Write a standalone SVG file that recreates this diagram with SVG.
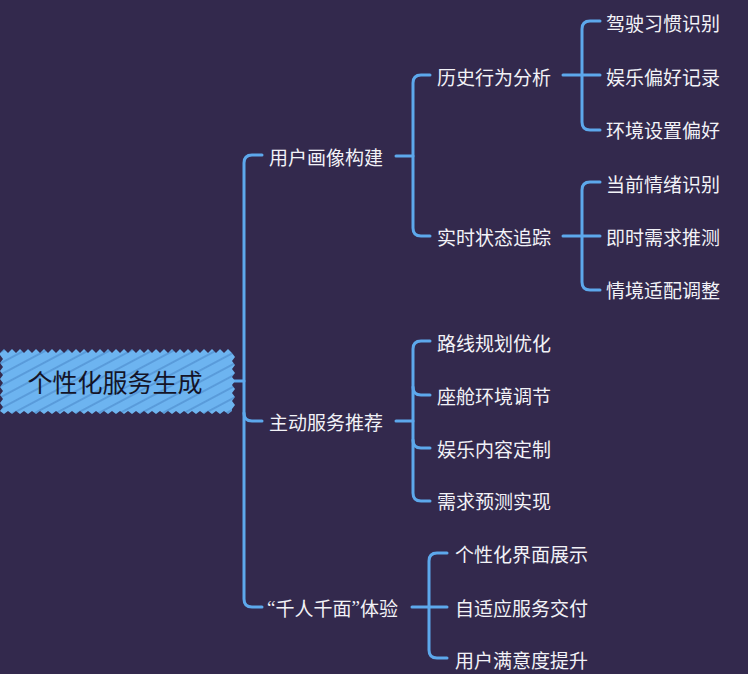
<svg xmlns="http://www.w3.org/2000/svg" width="748" height="674" viewBox="0 0 748 674">
<defs>
<pattern id="hatch" width="10" height="10" patternUnits="userSpaceOnUse" patternTransform="rotate(-28)">
<rect width="10" height="10" fill="#6db4f0"/>
<line x1="0" y1="1" x2="10" y2="1" stroke="#4583c4" stroke-width="1"/>
</pattern>
</defs>
<style>
.bg{fill:#33294d}
.c{fill:none;stroke:#5da8ec;stroke-width:3;stroke-linecap:round;stroke-linejoin:round}
.t{font-family:"Noto Sans CJK SC","Noto Sans",sans-serif;font-size:19px;fill:#f2f2f7;dominant-baseline:central}
.q{font-family:"Liberation Serif",serif}
.r{font-family:"Noto Sans CJK SC","Noto Sans",sans-serif;font-size:25px;fill:#141428;dominant-baseline:central;text-anchor:middle}
</style>
<rect class="bg" width="748" height="674"/>
<g id="connectors">
<path class="c" d="M232 381 H244"/>
<path class="c" d="M262 155 H252 Q244 155 244 163 V599 Q244 607 252 607 H262"/>
<path class="c" d="M244 413 Q244 421 252 421 H262"/>
<path class="c" d="M396 156 H413"/>
<path class="c" d="M430 75 H421 Q413 75 413 83 V228 Q413 236 421 236 H430"/>
<path class="c" d="M563 75 H600"/>
<path class="c" d="M600 21 H590 Q582 21 582 29 V122 Q582 130 590 130 H600"/>
<path class="c" d="M563 236 H600"/>
<path class="c" d="M600 182 H590 Q582 182 582 190 V282 Q582 290 590 290 H600"/>
<path class="c" d="M396 421 H413"/>
<path class="c" d="M430 341 H421 Q413 341 413 349 V493 Q413 501 421 501 H430"/>
<path class="c" d="M413 387 Q413 395 421 395 H430"/>
<path class="c" d="M413 440 Q413 448 421 448 H430"/>
<path class="c" d="M412 607 H447"/>
<path class="c" d="M447 553 H437 Q429 553 429 561 V650 Q429 658 437 658 H447"/>
</g>
<g id="root">
<path fill="url(#hatch)" d="M0 353 l4 -4 l4 4 l4 -4 l4 4 l4 -4 l4 4 l4 -4 l4 4 l4 -4 l4 4 l4 -4 l4 4 l4 -4 l4 4 l4 -4 l4 4 l4 -4 l4 4 l4 -4 l4 4 l4 -4 l4 4 l4 -4 l4 4 l4 -4 l4 4 l4 -4 l4 4 l4 -4 l4 4 l4 -4 l4 4 l4 -4 l4 4 l4 -4 l4 4 l4 -4 l4 4 l4 -4 l4 4 l4 -4 l4 4 l4 -4 l4 4 l4 -4 l4 4 l4 -4 l4 4 l4 -4 l4 4 l4 -4 l4 4 l4 -4 l4 4 l4 -4 l4 4 l4 -4 l4 4 l3 4 l-3 4 l3 4 l-3 4 l3 4 l-3 4 l3 4 l-3 4 l3 4 l-3 4 l3 4 l-3 4 l3 4 l-3 4 l0 2 l-4 3 l-4 -3 l-4 3 l-4 -3 l-4 3 l-4 -3 l-4 3 l-4 -3 l-4 3 l-4 -3 l-4 3 l-4 -3 l-4 3 l-4 -3 l-4 3 l-4 -3 l-4 3 l-4 -3 l-4 3 l-4 -3 l-4 3 l-4 -3 l-4 3 l-4 -3 l-4 3 l-4 -3 l-4 3 l-4 -3 l-4 3 l-4 -3 l-4 3 l-4 -3 l-4 3 l-4 -3 l-4 3 l-4 -3 l-4 3 l-4 -3 l-4 3 l-4 -3 l-4 3 l-4 -3 l-4 3 l-4 -3 l-4 3 l-4 -3 l-4 3 l-4 -3 l-4 3 l-4 -3 l-4 3 l-4 -3 l-4 3 l-4 -3 l-4 3 l-4 -3 l-4 3 l-4 -3 l3 -4 l-3 -4 l3 -4 l-3 -4 l3 -4 l-3 -4 l3 -4 l-3 -4 l3 -4 l-3 -4 l3 -4 l-3 -4 l3 -4 l-3 -4 z"/>
<text class="r" x="115" y="381">个性化服务生成</text>
</g>
<g id="n1"><text class="t" x="269" y="156">用户画像构建</text></g>
<g id="n2"><text class="t" x="269" y="421">主动服务推荐</text></g>
<g id="n3"><text class="t" x="267" y="607"><tspan class="q">“</tspan>千人千面<tspan class="q">”</tspan>体验</text></g>
<g id="n11"><text class="t" x="437" y="76">历史行为分析</text></g>
<g id="n12"><text class="t" x="437" y="236">实时状态追踪</text></g>
<g id="n111"><text class="t" x="606" y="22">驾驶习惯识别</text></g>
<g id="n112"><text class="t" x="606" y="76">娱乐偏好记录</text></g>
<g id="n113"><text class="t" x="606" y="129">环境设置偏好</text></g>
<g id="n121"><text class="t" x="606" y="183">当前情绪识别</text></g>
<g id="n122"><text class="t" x="606" y="236">即时需求推测</text></g>
<g id="n123"><text class="t" x="606" y="289">情境适配调整</text></g>
<g id="n21"><text class="t" x="437" y="342">路线规划优化</text></g>
<g id="n22"><text class="t" x="437" y="395">座舱环境调节</text></g>
<g id="n23"><text class="t" x="437" y="448">娱乐内容定制</text></g>
<g id="n24"><text class="t" x="437" y="500">需求预测实现</text></g>
<g id="n31"><text class="t" x="455" y="553">个性化界面展示</text></g>
<g id="n32"><text class="t" x="455" y="607">自适应服务交付</text></g>
<g id="n33"><text class="t" x="455" y="659">用户满意度提升</text></g>
</svg>
